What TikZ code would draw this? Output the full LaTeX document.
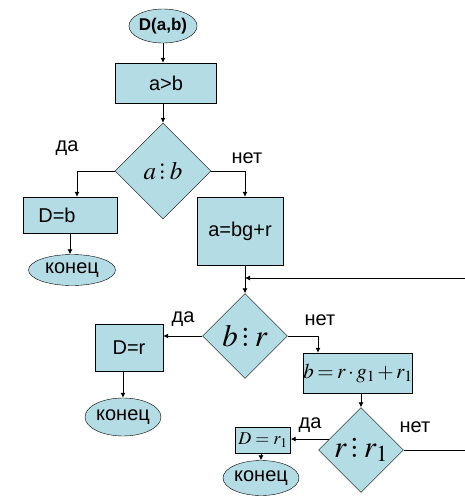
\documentclass[tikz,border=0pt]{standalone}
\usepackage{mathptmx}
\usepackage[no-math]{fontspec}
\setmainfont{Liberation Sans}
\usetikzlibrary{shapes.geometric,arrows.meta}
\definecolor{flowfill}{RGB}{180,220,228}
\newcommand\dvd{\mkern2mu\rlap{\raisebox{.5em}{$.$}}\rlap{\raisebox{.25em}{$.$}}.\mkern3mu}

\begin{document}
\begin{tikzpicture}[x=1pt,y=-1pt,
    every node/.style={font=\fontsize{20}{24}\selectfont, inner sep=0pt},
    box/.style={draw, fill=flowfill, rectangle},
    term/.style={draw, fill=flowfill, ellipse},
    cond/.style={draw, fill=flowfill, diamond, aspect=1},
    line/.style={draw, line width=0.8pt, -{Latex[length=5pt,width=5pt]}}]

\useasboundingbox (0,0) rectangle (464,496);

\node[term, minimum width=54, minimum height=34, font=\fontsize{17}{20}\selectfont\bfseries] (start) at (163,26) {D(a,b)};
\node[box, minimum width=101, minimum height=40] (gt) at (166,83) {a>b};
\node[cond, minimum width=96, minimum height=96, font=\fontsize{25}{30}\selectfont] (c1) at (163,171) {$a\dvd b$};
\node[box, minimum width=94, minimum height=36] (db) at (70,215) {D=b\hspace*{26pt}};
\node[term, minimum width=87, minimum height=31] (end1) at (72,270) {конец};
\node[box, minimum width=86, minimum height=68] (abr) at (240,231) {a=bg+r};
\node[cond, minimum width=85, minimum height=85, font=\fontsize{31}{36}\selectfont] (c2) at (245,336) {$b\dvd r$};
\node[box, minimum width=68, minimum height=47] (dr) at (129,348) {D=r};
\node[term, minimum width=68, minimum height=38] (end2) at (123,417) {конец};
\node[box, minimum width=108, minimum height=40, font=\fontsize{21}{25}\selectfont] (bgr) at (358,373) {$\thickmuskip=3mu\medmuskip=2mu b=r\cdot g_1+r_1$};
\node[cond, minimum width=85, minimum height=85, font=\fontsize{31}{36}\selectfont] (c3) at (361,450) {$r\dvd r_1$};
\node[box, minimum width=55, minimum height=26, font=\fontsize{18}{22}\selectfont] (dr1) at (263,440) {$D=r_1$};
\node[term, minimum width=74, minimum height=35] (end3) at (261,478) {конец};

\node (yes1) at (67,148) {да};
\node (no1) at (247,158) {нет};
\node (yes2) at (183,319) {да};
\node (no2) at (320,320) {нет};
\node (yes3) at (310,425) {да};
\node (no3) at (415,427) {нет};

\coordinate (join) at (245,278);
\coordinate (back) at (468,278);

\draw[line] (start) -- (start |- gt.north);
\draw[line] (start |- gt.south) -- (c1);
\draw[line] (c1.west) -| ([xshift=7pt]db.north);
\draw[line] (db.south) -- (db.south |- end1.north);
\draw[line] (c1.east) -| ([xshift=5pt]abr.north);
\draw[line] ([xshift=5pt]abr.south) -- (c2);
\draw[line] (c2.west) -- (c2.west -| dr.east);
\draw[line] (dr.south -| end2) -- (end2);
\draw[line] (c2.east) -| ([xshift=-40pt]bgr.north);
\draw[line] (bgr.south -| c3) -- (c3);
\draw[line] (c3.161) -- (c3.161 -| dr1.east);
\draw[line] (dr1.south -| end3) -- (end3);
\draw[line] (c3.east) -| (back) -- (join);

\end{tikzpicture}
\end{document}
